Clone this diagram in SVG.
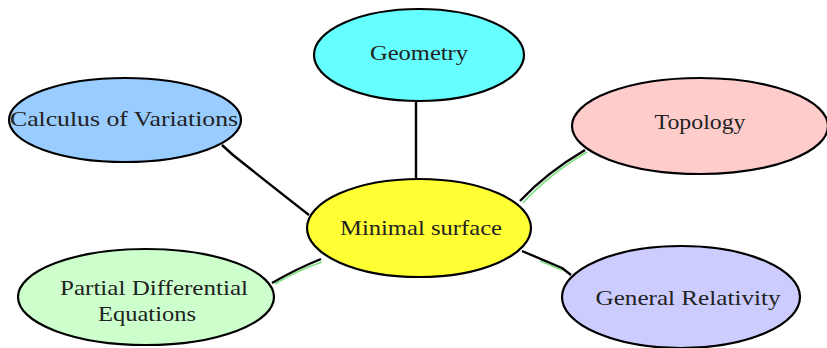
<svg xmlns="http://www.w3.org/2000/svg" width="827" height="348" viewBox="0 0 827 348">
<style>
.n{stroke:#000;stroke-width:2.2}
.t{font-family:"Liberation Serif","DejaVu Serif",serif;font-size:22px;fill:#222;text-anchor:middle;dominant-baseline:central}
.c{fill:none;stroke:#000;stroke-width:2.4;stroke-linejoin:round}
.g{fill:none;stroke:#7fe07f;stroke-width:1.5}
</style>
<rect width="827" height="348" fill="#fff"/>
<g id="connectors">
<path class="g" d="M587,152 Q548,175 523,203"/>
<path class="g" d="M275,284 Q298,270 322,262"/>
<path class="g" d="M540,261 L562,270"/>
<line class="c" x1="416" y1="101" x2="416" y2="179"/>
<path class="c" d="M222,145 L233,155 Q268,183 309,215"/>
<path class="c" d="M585,150 Q546,173 520,201"/>
<path class="c" d="M272,283 Q296,269 321,259"/>
<path class="c" d="M522,251 L562,268 L571,275"/>
</g>
<g id="geometry"><ellipse class="n" cx="419" cy="55" rx="105" ry="46" fill="#66ffff"/><text class="t" x="419" y="52" textLength="98" lengthAdjust="spacingAndGlyphs">Geometry</text></g>
<g id="calculus"><ellipse class="n" cx="125" cy="120" rx="116" ry="42" fill="#99ccff"/><text class="t" x="124" y="118" textLength="228" lengthAdjust="spacingAndGlyphs">Calculus of Variations</text></g>
<g id="topology"><ellipse class="n" cx="700" cy="126" rx="128" ry="48" fill="#ffcccc"/><text class="t" x="700" y="121" textLength="91" lengthAdjust="spacingAndGlyphs">Topology</text></g>
<g id="minimal"><ellipse class="n" cx="419" cy="228" rx="112" ry="49" fill="#ffff33"/><text class="t" x="421" y="227" textLength="162" lengthAdjust="spacingAndGlyphs">Minimal surface</text></g>
<g id="pde"><ellipse class="n" cx="146" cy="297" rx="128" ry="48" fill="#ccffcc"/><text class="t" x="154" y="287" textLength="188" lengthAdjust="spacingAndGlyphs">Partial Differential</text><text class="t" x="147" y="313" textLength="98" lengthAdjust="spacingAndGlyphs">Equations</text></g>
<g id="relativity"><ellipse class="n" cx="681" cy="297" rx="119" ry="51" fill="#ccccff"/><text class="t" x="688" y="297" textLength="185" lengthAdjust="spacingAndGlyphs">General Relativity</text></g>
</svg>
